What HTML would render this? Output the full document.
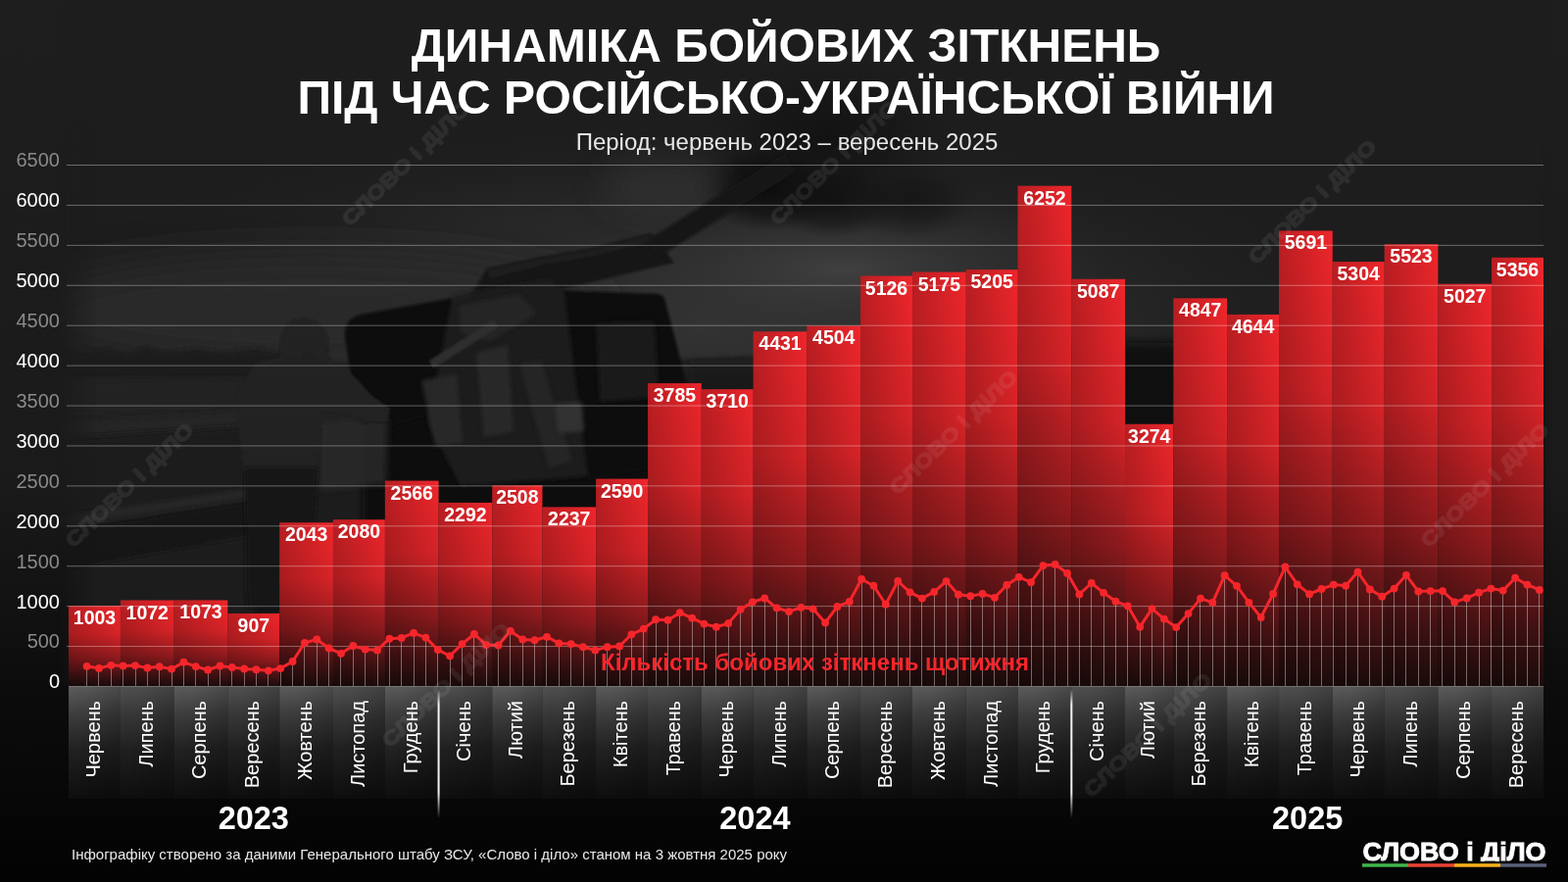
<!DOCTYPE html>
<html><head><meta charset="utf-8"><title>Динаміка бойових зіткнень</title>
<style>
html,body{margin:0;padding:0;background:#000;}
body{width:1600px;height:900px;overflow:hidden;}
svg{display:block;}
text{font-family:"Liberation Sans",Arial,sans-serif;}
</style></head><body>
<svg width="1600" height="900" viewBox="0 0 1600 900">
<defs>
<linearGradient id="bgv" x1="0" y1="0" x2="0" y2="1">
 <stop offset="0" stop-color="#1e1e1e"/>
 <stop offset="0.55" stop-color="#1a1a1a"/>
 <stop offset="0.78" stop-color="#0c0c0c"/>
 <stop offset="1" stop-color="#030303"/>
</linearGradient>
<linearGradient id="bar" x1="0" y1="0" x2="0" y2="1">
 <stop offset="0" stop-color="#ee262b"/>
 <stop offset="0.35" stop-color="#d62327"/>
 <stop offset="0.65" stop-color="#8e1a1d"/>
 <stop offset="0.88" stop-color="#3e1112"/>
 <stop offset="1" stop-color="#1c0b0b"/>
</linearGradient>
<linearGradient id="barh" x1="0" y1="0" x2="1" y2="0">
 <stop offset="0" stop-color="#000" stop-opacity="0.22"/>
 <stop offset="1" stop-color="#000" stop-opacity="0"/>
</linearGradient>
<linearGradient id="cell" x1="0" y1="0" x2="0" y2="1">
 <stop offset="0" stop-color="#5a5a5a"/>
 <stop offset="0.25" stop-color="#3c3c3c"/>
 <stop offset="0.55" stop-color="#222"/>
 <stop offset="0.85" stop-color="#141414"/>
 <stop offset="1" stop-color="#0e0e0e"/>
</linearGradient>
<linearGradient id="celldark" x1="0" y1="0" x2="0" y2="1">
 <stop offset="0" stop-color="#000" stop-opacity="0.12"/>
 <stop offset="1" stop-color="#000" stop-opacity="0"/>
</linearGradient>
<linearGradient id="cellh" x1="0" y1="0" x2="1" y2="0.3">
 <stop offset="0" stop-color="#fff" stop-opacity="0.02"/>
 <stop offset="0.3" stop-color="#000" stop-opacity="0"/>
 <stop offset="1" stop-color="#000" stop-opacity="0.2"/>
</linearGradient>
<linearGradient id="sep" x1="0" y1="0" x2="0" y2="1">
 <stop offset="0" stop-color="#fff" stop-opacity="0"/>
 <stop offset="0.12" stop-color="#fff" stop-opacity="0.95"/>
 <stop offset="0.8" stop-color="#fff" stop-opacity="0.95"/>
 <stop offset="1" stop-color="#fff" stop-opacity="0"/>
</linearGradient>
<filter id="blur6" x="-20%" y="-20%" width="140%" height="140%"><feGaussianBlur stdDeviation="6"/></filter>
<filter id="blur3" x="-20%" y="-20%" width="140%" height="140%"><feGaussianBlur stdDeviation="3"/></filter>
<filter id="blur20" x="-50%" y="-50%" width="200%" height="200%"><feGaussianBlur stdDeviation="20"/></filter>
<filter id="blur2" x="-20%" y="-20%" width="140%" height="140%"><feGaussianBlur stdDeviation="2"/></filter>
<filter id="blur30" x="-50%" y="-50%" width="200%" height="200%"><feGaussianBlur stdDeviation="30"/></filter>
<linearGradient id="skyv" x1="0" y1="0" x2="0" y2="700" gradientUnits="userSpaceOnUse">
 <stop offset="0" stop-color="#1c1c1c"/>
 <stop offset="0.25" stop-color="#1e1e1e"/>
 <stop offset="0.42" stop-color="#232323"/>
 <stop offset="0.52" stop-color="#282828"/>
 <stop offset="1" stop-color="#1a1a1a"/>
</linearGradient>
<radialGradient id="glowA" cx="0.5" cy="0.5" r="0.5">
 <stop offset="0" stop-color="#333" stop-opacity="1"/>
 <stop offset="0.55" stop-color="#292929" stop-opacity="0.85"/>
 <stop offset="1" stop-color="#1d1d1d" stop-opacity="0"/>
</radialGradient>
<radialGradient id="glowB" cx="0.5" cy="0.5" r="0.5">
 <stop offset="0" stop-color="#404040" stop-opacity="1"/>
 <stop offset="1" stop-color="#2e2e2e" stop-opacity="0"/>
</radialGradient>
<radialGradient id="smokeG" cx="0.5" cy="0.5" r="0.5">
 <stop offset="0" stop-color="#121212" stop-opacity="0.95"/>
 <stop offset="0.5" stop-color="#151515" stop-opacity="0.7"/>
 <stop offset="1" stop-color="#1a1a1a" stop-opacity="0"/>
</radialGradient>
<radialGradient id="smokeG2" cx="0.5" cy="0.5" r="0.5">
 <stop offset="0" stop-color="#0c0c0c" stop-opacity="1"/>
 <stop offset="0.6" stop-color="#101010" stop-opacity="0.7"/>
 <stop offset="1" stop-color="#151515" stop-opacity="0"/>
</radialGradient>
<linearGradient id="groundv" x1="0" y1="350" x2="0" y2="700" gradientUnits="userSpaceOnUse">
 <stop offset="0" stop-color="#232323"/>
 <stop offset="0.3" stop-color="#1f1f1f"/>
 <stop offset="1" stop-color="#121212"/>
</linearGradient>
<filter id="blur1" x="-20%" y="-20%" width="140%" height="140%"><feGaussianBlur stdDeviation="1.2"/></filter>
<filter id="blur15" x="-50%" y="-50%" width="200%" height="200%"><feGaussianBlur stdDeviation="15"/></filter>
<linearGradient id="fadeL" x1="0" y1="0" x2="1600" y2="0" gradientUnits="userSpaceOnUse">
 <stop offset="0.037" stop-color="#fff" stop-opacity="0"/>
 <stop offset="0.0625" stop-color="#fff" stop-opacity="1"/>
 <stop offset="0.975" stop-color="#fff" stop-opacity="1"/>
 <stop offset="0.99" stop-color="#fff" stop-opacity="0"/>
</linearGradient>
<mask id="photomask" maskUnits="userSpaceOnUse" x="0" y="0" width="1600" height="700"><rect x="0" y="0" width="1600" height="700" fill="url(#fadeL)"/></mask>
</defs>
<rect x="0" y="0" width="1600" height="900" fill="url(#bgv)"/>

<g mask="url(#photomask)">
<!-- sky base -->
<rect x="0" y="0" width="1600" height="700" fill="#1d1d1d"/>
<ellipse cx="720" cy="330" rx="720" ry="220" fill="url(#glowA)"/>
<ellipse cx="860" cy="275" rx="270" ry="85" fill="url(#glowB)"/>
<ellipse cx="320" cy="318" rx="300" ry="60" fill="#2b2b2b" opacity="0.9" filter="url(#blur20)"/>
<!-- ground -->
<path d="M0 372 L560 368 L700 366 L1000 352 L1600 346 L1600 700 L0 700 Z" fill="url(#groundv)" filter="url(#blur1)"/>
<!-- right ground darker -->
<rect x="1010" y="350" width="600" height="350" fill="#0e0e0e" opacity="0.9" filter="url(#blur6)"/>
<rect x="700" y="372" width="320" height="330" fill="#151515" opacity="0.7" filter="url(#blur6)"/>
<!-- tree line -->
<path d="M0 362 L90 360 L110 356 L125 362 L150 354 L170 360 L200 356 L230 360 L260 356 L300 362 L300 388 L0 388 Z" fill="#1a1a1a" filter="url(#blur2)"/>
<!-- field -->
<path d="M0 388 L300 386 L300 420 L0 424 Z" fill="#242424" filter="url(#blur3)"/>
<path d="M0 436 L300 418 L300 432 L0 452 Z" fill="#272727" opacity="0.9" filter="url(#blur3)"/>
<path d="M0 452 L300 432 L300 500 L0 532 Z" fill="#1e1e1e" filter="url(#blur3)"/>
<!-- embankment and trench -->
<path d="M0 536 L260 498 L260 510 L0 550 Z" fill="#262626" filter="url(#blur2)"/>
<path d="M0 550 L260 510 L260 545 L0 592 Z" fill="#131313" filter="url(#blur3)"/>
<path d="M0 592 L260 545 L260 700 L0 700 Z" fill="#1b1b1b" filter="url(#blur3)"/>
<!-- smoke -->
<ellipse cx="845" cy="140" rx="135" ry="85" fill="url(#smokeG)"/>
<ellipse cx="785" cy="192" rx="72" ry="45" fill="url(#smokeG2)"/>
<ellipse cx="850" cy="205" rx="70" ry="38" fill="url(#smokeG2)" opacity="0.75"/>
<ellipse cx="930" cy="205" rx="70" ry="40" fill="url(#smokeG)" opacity="0.8"/>
<ellipse cx="675" cy="190" rx="60" ry="28" fill="#353535" opacity="0.6" filter="url(#blur15)"/>
<!-- dark mass under gun -->
<path d="M370 420 L700 410 L705 540 L370 545 Z" fill="#0a0a0a" filter="url(#blur3)"/>
<!-- barrel assembly -->
<path d="M480 302 L497 274 L553 262 L600 254 L664 238 L688 268 L620 284 L553 300 L500 324 Z" fill="#171717" filter="url(#blur1)"/>
<path d="M497 276 L553 264 L600 256 L664 240 L666 246 L602 262 L555 270 L500 284 Z" fill="#242424" opacity="0.7" filter="url(#blur1)"/>
<path d="M666 254 L806 166" stroke="#191919" stroke-width="21" stroke-linecap="butt" filter="url(#blur1)"/>
<!-- left shield -->
<path d="M352 345 Q350 326 368 321 L462 304 L474 412 L384 440 L364 420 Z" fill="#0f0f0f" filter="url(#blur1)"/>
<!-- right shield -->
<path d="M563 296 L672 300 Q678 301 679 308 L700 388 L704 470 L600 490 L566 420 Z" fill="#101010" filter="url(#blur1)"/>
<path d="M608 330 L668 328 L672 405 L612 410 Z" fill="#1b1b1b" opacity="0.9" filter="url(#blur2)"/>
<!-- mechanism -->
<path d="M462 302 L560 284 L576 298 L600 486 L470 496 L436 430 Z" fill="#1c1c1c" filter="url(#blur2)"/>
<path d="M468 312 L530 300 L548 320 L500 348 L470 340 Z" fill="#262626" opacity="0.9" filter="url(#blur2)"/>
<path d="M440 372 L506 330" stroke="#2e2e2e" stroke-width="9" filter="url(#blur1)"/>
<path d="M430 388 L466 382 L472 452 L444 456 Z" fill="#2b2b2b" opacity="0.9" filter="url(#blur2)"/>
<path d="M486 360 L518 352 L524 440 L494 446 Z" fill="#2a2a2a" opacity="0.9" filter="url(#blur2)"/>
<path d="M530 372 L552 368 L584 470 L560 478 Z" fill="#262626" opacity="0.9" filter="url(#blur2)"/>
<path d="M566 412 L594 410 L596 440 L570 442 Z" fill="#363636" opacity="0.9" filter="url(#blur2)"/>
<!-- ground patch between soldier and gun -->
<path d="M326 432 L396 428 L394 494 L326 500 Z" fill="#2a2a2a" opacity="0.85" filter="url(#blur3)"/>
<!-- soldier -->
<path d="M286 348 Q290 327 309 325 Q330 326 335 350 L337 368 L352 374 L380 404 L398 416 L396 430 L372 430 L345 420 L330 420 L323 480 L248 480 L245 450 L241 404 L259 371 L286 364 Z" fill="#202020" filter="url(#blur1)"/>
<path d="M288 350 Q292 330 309 327 Q328 328 333 350 L330 362 L292 364 Z" fill="#232323" filter="url(#blur2)"/>
<path d="M250 478 L324 478 L320 540 L314 620 L252 620 Z" fill="#191919" filter="url(#blur2)"/>

</g>
<rect x="70.00" y="618.17" width="52.93" height="82.33" fill="url(#bar)"/>
<rect x="70.00" y="618.17" width="52.93" height="82.33" fill="url(#barh)"/>
<rect x="122.93" y="612.53" width="54.70" height="87.97" fill="url(#bar)"/>
<rect x="122.93" y="612.53" width="54.70" height="87.97" fill="url(#barh)"/>
<rect x="177.63" y="612.45" width="54.70" height="88.05" fill="url(#bar)"/>
<rect x="177.63" y="612.45" width="54.70" height="88.05" fill="url(#barh)"/>
<rect x="232.32" y="626.00" width="52.93" height="74.50" fill="url(#bar)"/>
<rect x="232.32" y="626.00" width="52.93" height="74.50" fill="url(#barh)"/>
<rect x="285.25" y="533.27" width="54.70" height="167.23" fill="url(#bar)"/>
<rect x="285.25" y="533.27" width="54.70" height="167.23" fill="url(#barh)"/>
<rect x="339.95" y="530.25" width="52.93" height="170.25" fill="url(#bar)"/>
<rect x="339.95" y="530.25" width="52.93" height="170.25" fill="url(#barh)"/>
<rect x="392.88" y="490.58" width="54.70" height="209.92" fill="url(#bar)"/>
<rect x="392.88" y="490.58" width="54.70" height="209.92" fill="url(#barh)"/>
<rect x="447.57" y="512.94" width="54.70" height="187.56" fill="url(#bar)"/>
<rect x="447.57" y="512.94" width="54.70" height="187.56" fill="url(#barh)"/>
<rect x="502.27" y="495.31" width="51.17" height="205.19" fill="url(#bar)"/>
<rect x="502.27" y="495.31" width="51.17" height="205.19" fill="url(#barh)"/>
<rect x="553.43" y="517.43" width="54.70" height="183.07" fill="url(#bar)"/>
<rect x="553.43" y="517.43" width="54.70" height="183.07" fill="url(#barh)"/>
<rect x="608.13" y="488.62" width="52.93" height="211.88" fill="url(#bar)"/>
<rect x="608.13" y="488.62" width="52.93" height="211.88" fill="url(#barh)"/>
<rect x="661.06" y="391.07" width="54.70" height="309.43" fill="url(#bar)"/>
<rect x="661.06" y="391.07" width="54.70" height="309.43" fill="url(#barh)"/>
<rect x="715.76" y="397.19" width="52.93" height="303.31" fill="url(#bar)"/>
<rect x="715.76" y="397.19" width="52.93" height="303.31" fill="url(#barh)"/>
<rect x="768.69" y="338.34" width="54.70" height="362.16" fill="url(#bar)"/>
<rect x="768.69" y="338.34" width="54.70" height="362.16" fill="url(#barh)"/>
<rect x="823.38" y="332.38" width="54.70" height="368.12" fill="url(#bar)"/>
<rect x="823.38" y="332.38" width="54.70" height="368.12" fill="url(#barh)"/>
<rect x="878.08" y="281.60" width="52.93" height="418.90" fill="url(#bar)"/>
<rect x="878.08" y="281.60" width="52.93" height="418.90" fill="url(#barh)"/>
<rect x="931.01" y="277.60" width="54.70" height="422.90" fill="url(#bar)"/>
<rect x="931.01" y="277.60" width="54.70" height="422.90" fill="url(#barh)"/>
<rect x="985.70" y="275.16" width="52.93" height="425.34" fill="url(#bar)"/>
<rect x="985.70" y="275.16" width="52.93" height="425.34" fill="url(#barh)"/>
<rect x="1038.63" y="189.69" width="54.70" height="510.81" fill="url(#bar)"/>
<rect x="1038.63" y="189.69" width="54.70" height="510.81" fill="url(#barh)"/>
<rect x="1093.33" y="284.79" width="54.70" height="415.71" fill="url(#bar)"/>
<rect x="1093.33" y="284.79" width="54.70" height="415.71" fill="url(#barh)"/>
<rect x="1148.02" y="432.78" width="49.40" height="267.72" fill="url(#bar)"/>
<rect x="1148.02" y="432.78" width="49.40" height="267.72" fill="url(#barh)"/>
<rect x="1197.43" y="304.38" width="54.70" height="396.12" fill="url(#bar)"/>
<rect x="1197.43" y="304.38" width="54.70" height="396.12" fill="url(#barh)"/>
<rect x="1252.12" y="320.95" width="52.93" height="379.55" fill="url(#bar)"/>
<rect x="1252.12" y="320.95" width="52.93" height="379.55" fill="url(#barh)"/>
<rect x="1305.05" y="235.48" width="54.70" height="465.02" fill="url(#bar)"/>
<rect x="1305.05" y="235.48" width="54.70" height="465.02" fill="url(#barh)"/>
<rect x="1359.75" y="267.07" width="52.93" height="433.43" fill="url(#bar)"/>
<rect x="1359.75" y="267.07" width="52.93" height="433.43" fill="url(#barh)"/>
<rect x="1412.68" y="249.20" width="54.70" height="451.30" fill="url(#bar)"/>
<rect x="1412.68" y="249.20" width="54.70" height="451.30" fill="url(#barh)"/>
<rect x="1467.37" y="289.69" width="54.70" height="410.81" fill="url(#bar)"/>
<rect x="1467.37" y="289.69" width="54.70" height="410.81" fill="url(#barh)"/>
<rect x="1522.07" y="262.83" width="52.93" height="437.67" fill="url(#bar)"/>
<rect x="1522.07" y="262.83" width="52.93" height="437.67" fill="url(#barh)"/>
<rect x="68" y="659.08" width="1507" height="1" fill="#fff" opacity="0.35"/>
<rect x="68" y="618.15" width="1507" height="1" fill="#fff" opacity="0.35"/>
<rect x="68" y="577.23" width="1507" height="1" fill="#fff" opacity="0.35"/>
<rect x="68" y="536.31" width="1507" height="1" fill="#fff" opacity="0.35"/>
<rect x="68" y="495.38" width="1507" height="1" fill="#fff" opacity="0.35"/>
<rect x="68" y="454.46" width="1507" height="1" fill="#fff" opacity="0.35"/>
<rect x="68" y="413.54" width="1507" height="1" fill="#fff" opacity="0.35"/>
<rect x="68" y="372.62" width="1507" height="1" fill="#fff" opacity="0.35"/>
<rect x="68" y="331.69" width="1507" height="1" fill="#fff" opacity="0.35"/>
<rect x="68" y="290.77" width="1507" height="1" fill="#fff" opacity="0.35"/>
<rect x="68" y="249.85" width="1507" height="1" fill="#fff" opacity="0.35"/>
<rect x="68" y="208.92" width="1507" height="1" fill="#fff" opacity="0.35"/>
<rect x="68" y="168.00" width="1507" height="1" fill="#fff" opacity="0.35"/>
<path d="M88.5 679.8V700 M100.5 681.9V700 M113.5 678.8V700 M125.5 679.4V700 M138.5 679.1V700 M150.5 681.5V700 M162.5 680.2V700 M175.5 682.6V700 M187.5 675.7V700 M199.5 680.1V700 M212.5 683.5V700 M224.5 679.5V700 M236.5 680.9V700 M249.5 682.5V700 M261.5 683.2V700 M273.5 684.3V700 M286.5 682.1V700 M298.5 675.0V700 M310.5 655.9V700 M323.5 652.5V700 M335.5 661.5V700 M347.5 666.8V700 M360.5 659.0V700 M372.5 662.6V700 M385.5 663.4V700 M397.5 651.7V700 M409.5 650.9V700 M422.5 645.9V700 M434.5 650.6V700 M446.5 663.0V700 M459.5 669.3V700 M471.5 657.1V700 M483.5 647.0V700 M496.5 658.1V700 M508.5 658.4V700 M520.5 643.9V700 M533.5 652.5V700 M545.5 653.2V700 M557.5 649.8V700 M570.5 656.4V700 M582.5 657.1V700 M595.5 660.2V700 M607.5 663.4V700 M619.5 660.2V700 M632.5 659.5V700 M644.5 647.3V700 M656.5 641.6V700 M669.5 632.2V700 M681.5 632.7V700 M693.5 625.2V700 M706.5 630.7V700 M718.5 636.6V700 M730.5 639.7V700 M743.5 636.1V700 M755.5 621.8V700 M767.5 614.3V700 M780.5 610.5V700 M792.5 620.3V700 M804.5 624.1V700 M817.5 619.8V700 M829.5 621.3V700 M842.5 635.4V700 M854.5 619.0V700 M866.5 613.9V700 M879.5 591.0V700 M891.5 597.7V700 M903.5 616.7V700 M916.5 593.0V700 M928.5 604.3V700 M940.5 610.6V700 M953.5 603.9V700 M965.5 593.1V700 M977.5 606.7V700 M990.5 608.2V700 M1002.5 605.9V700 M1014.5 609.8V700 M1027.5 597.0V700 M1039.5 588.8V700 M1052.5 594.2V700 M1064.5 577.1V700 M1076.5 576.0V700 M1089.5 584.9V700 M1101.5 606.4V700 M1113.5 595.0V700 M1126.5 604.8V700 M1138.5 613.7V700 M1150.5 618.3V700 M1163.5 639.7V700 M1175.5 621.1V700 M1187.5 631.6V700 M1200.5 640.1V700 M1212.5 626.1V700 M1224.5 610.6V700 M1237.5 614.9V700 M1249.5 587.2V700 M1262.5 597.8V700 M1274.5 614.8V700 M1286.5 630.0V700 M1299.5 605.9V700 M1311.5 578.4V700 M1323.5 596.3V700 M1336.5 606.2V700 M1348.5 601.0V700 M1360.5 596.6V700 M1373.5 597.7V700 M1385.5 583.6V700 M1397.5 601.4V700 M1410.5 608.7V700 M1422.5 600.6V700 M1434.5 586.8V700 M1447.5 603.5V700 M1459.5 603.1V700 M1471.5 603.1V700 M1484.5 614.4V700 M1496.5 610.4V700 M1509.5 604.7V700 M1521.5 600.6V700 M1533.5 602.6V700 M1546.5 589.7V700 M1558.5 596.6V700 M1570.5 601.9V700" stroke="#fff" stroke-opacity="0.38" stroke-width="1" fill="none"/>
<polyline points="88.6,679.8 101.0,681.9 113.3,678.8 125.7,679.4 138.0,679.1 150.4,681.5 162.7,680.2 175.1,682.6 187.4,675.7 199.8,680.1 212.1,683.5 224.5,679.5 236.8,680.9 249.2,682.5 261.5,683.2 273.9,684.3 286.2,682.1 298.6,675.0 310.9,655.9 323.3,652.5 335.6,661.5 348.0,666.8 360.3,659.0 372.7,662.6 385.0,663.4 397.4,651.7 409.7,650.9 422.1,645.9 434.4,650.6 446.8,663.0 459.1,669.3 471.5,657.1 483.9,647.0 496.2,658.1 508.6,658.4 520.9,643.9 533.3,652.5 545.6,653.2 558.0,649.8 570.3,656.4 582.7,657.1 595.0,660.2 607.4,663.4 619.7,660.2 632.1,659.5 644.4,647.3 656.8,641.6 669.1,632.2 681.5,632.7 693.8,625.2 706.2,630.7 718.5,636.6 730.9,639.7 743.2,636.1 755.6,621.8 767.9,614.3 780.3,610.5 792.6,620.3 805.0,624.1 817.3,619.8 829.7,621.3 842.1,635.4 854.4,619.0 866.8,613.9 879.1,591.0 891.5,597.7 903.8,616.7 916.2,593.0 928.5,604.3 940.9,610.6 953.2,603.9 965.6,593.1 977.9,606.7 990.3,608.2 1002.6,605.9 1015.0,609.8 1027.3,597.0 1039.7,588.8 1052.0,594.2 1064.4,577.1 1076.7,576.0 1089.1,584.9 1101.4,606.4 1113.8,595.0 1126.1,604.8 1138.5,613.7 1150.8,618.3 1163.2,639.7 1175.5,621.1 1187.9,631.6 1200.2,640.1 1212.6,626.1 1225.0,610.6 1237.3,614.9 1249.7,587.2 1262.0,597.8 1274.4,614.8 1286.7,630.0 1299.1,605.9 1311.4,578.4 1323.8,596.3 1336.1,606.2 1348.5,601.0 1360.8,596.6 1373.2,597.7 1385.5,583.6 1397.9,601.4 1410.2,608.7 1422.6,600.6 1434.9,586.8 1447.3,603.5 1459.6,603.1 1472.0,603.1 1484.3,614.4 1496.7,610.4 1509.0,604.7 1521.4,600.6 1533.7,602.6 1546.1,589.7 1558.4,596.6 1570.8,601.9" fill="none" stroke="#f5262b" stroke-width="3" stroke-linejoin="round"/>
<g fill="#f5262b"><circle cx="88.6" cy="679.8" r="3.9"/><circle cx="101.0" cy="681.9" r="3.9"/><circle cx="113.3" cy="678.8" r="3.9"/><circle cx="125.7" cy="679.4" r="3.9"/><circle cx="138.0" cy="679.1" r="3.9"/><circle cx="150.4" cy="681.5" r="3.9"/><circle cx="162.7" cy="680.2" r="3.9"/><circle cx="175.1" cy="682.6" r="3.9"/><circle cx="187.4" cy="675.7" r="3.9"/><circle cx="199.8" cy="680.1" r="3.9"/><circle cx="212.1" cy="683.5" r="3.9"/><circle cx="224.5" cy="679.5" r="3.9"/><circle cx="236.8" cy="680.9" r="3.9"/><circle cx="249.2" cy="682.5" r="3.9"/><circle cx="261.5" cy="683.2" r="3.9"/><circle cx="273.9" cy="684.3" r="3.9"/><circle cx="286.2" cy="682.1" r="3.9"/><circle cx="298.6" cy="675.0" r="3.9"/><circle cx="310.9" cy="655.9" r="3.9"/><circle cx="323.3" cy="652.5" r="3.9"/><circle cx="335.6" cy="661.5" r="3.9"/><circle cx="348.0" cy="666.8" r="3.9"/><circle cx="360.3" cy="659.0" r="3.9"/><circle cx="372.7" cy="662.6" r="3.9"/><circle cx="385.0" cy="663.4" r="3.9"/><circle cx="397.4" cy="651.7" r="3.9"/><circle cx="409.7" cy="650.9" r="3.9"/><circle cx="422.1" cy="645.9" r="3.9"/><circle cx="434.4" cy="650.6" r="3.9"/><circle cx="446.8" cy="663.0" r="3.9"/><circle cx="459.1" cy="669.3" r="3.9"/><circle cx="471.5" cy="657.1" r="3.9"/><circle cx="483.9" cy="647.0" r="3.9"/><circle cx="496.2" cy="658.1" r="3.9"/><circle cx="508.6" cy="658.4" r="3.9"/><circle cx="520.9" cy="643.9" r="3.9"/><circle cx="533.3" cy="652.5" r="3.9"/><circle cx="545.6" cy="653.2" r="3.9"/><circle cx="558.0" cy="649.8" r="3.9"/><circle cx="570.3" cy="656.4" r="3.9"/><circle cx="582.7" cy="657.1" r="3.9"/><circle cx="595.0" cy="660.2" r="3.9"/><circle cx="607.4" cy="663.4" r="3.9"/><circle cx="619.7" cy="660.2" r="3.9"/><circle cx="632.1" cy="659.5" r="3.9"/><circle cx="644.4" cy="647.3" r="3.9"/><circle cx="656.8" cy="641.6" r="3.9"/><circle cx="669.1" cy="632.2" r="3.9"/><circle cx="681.5" cy="632.7" r="3.9"/><circle cx="693.8" cy="625.2" r="3.9"/><circle cx="706.2" cy="630.7" r="3.9"/><circle cx="718.5" cy="636.6" r="3.9"/><circle cx="730.9" cy="639.7" r="3.9"/><circle cx="743.2" cy="636.1" r="3.9"/><circle cx="755.6" cy="621.8" r="3.9"/><circle cx="767.9" cy="614.3" r="3.9"/><circle cx="780.3" cy="610.5" r="3.9"/><circle cx="792.6" cy="620.3" r="3.9"/><circle cx="805.0" cy="624.1" r="3.9"/><circle cx="817.3" cy="619.8" r="3.9"/><circle cx="829.7" cy="621.3" r="3.9"/><circle cx="842.1" cy="635.4" r="3.9"/><circle cx="854.4" cy="619.0" r="3.9"/><circle cx="866.8" cy="613.9" r="3.9"/><circle cx="879.1" cy="591.0" r="3.9"/><circle cx="891.5" cy="597.7" r="3.9"/><circle cx="903.8" cy="616.7" r="3.9"/><circle cx="916.2" cy="593.0" r="3.9"/><circle cx="928.5" cy="604.3" r="3.9"/><circle cx="940.9" cy="610.6" r="3.9"/><circle cx="953.2" cy="603.9" r="3.9"/><circle cx="965.6" cy="593.1" r="3.9"/><circle cx="977.9" cy="606.7" r="3.9"/><circle cx="990.3" cy="608.2" r="3.9"/><circle cx="1002.6" cy="605.9" r="3.9"/><circle cx="1015.0" cy="609.8" r="3.9"/><circle cx="1027.3" cy="597.0" r="3.9"/><circle cx="1039.7" cy="588.8" r="3.9"/><circle cx="1052.0" cy="594.2" r="3.9"/><circle cx="1064.4" cy="577.1" r="3.9"/><circle cx="1076.7" cy="576.0" r="3.9"/><circle cx="1089.1" cy="584.9" r="3.9"/><circle cx="1101.4" cy="606.4" r="3.9"/><circle cx="1113.8" cy="595.0" r="3.9"/><circle cx="1126.1" cy="604.8" r="3.9"/><circle cx="1138.5" cy="613.7" r="3.9"/><circle cx="1150.8" cy="618.3" r="3.9"/><circle cx="1163.2" cy="639.7" r="3.9"/><circle cx="1175.5" cy="621.1" r="3.9"/><circle cx="1187.9" cy="631.6" r="3.9"/><circle cx="1200.2" cy="640.1" r="3.9"/><circle cx="1212.6" cy="626.1" r="3.9"/><circle cx="1225.0" cy="610.6" r="3.9"/><circle cx="1237.3" cy="614.9" r="3.9"/><circle cx="1249.7" cy="587.2" r="3.9"/><circle cx="1262.0" cy="597.8" r="3.9"/><circle cx="1274.4" cy="614.8" r="3.9"/><circle cx="1286.7" cy="630.0" r="3.9"/><circle cx="1299.1" cy="605.9" r="3.9"/><circle cx="1311.4" cy="578.4" r="3.9"/><circle cx="1323.8" cy="596.3" r="3.9"/><circle cx="1336.1" cy="606.2" r="3.9"/><circle cx="1348.5" cy="601.0" r="3.9"/><circle cx="1360.8" cy="596.6" r="3.9"/><circle cx="1373.2" cy="597.7" r="3.9"/><circle cx="1385.5" cy="583.6" r="3.9"/><circle cx="1397.9" cy="601.4" r="3.9"/><circle cx="1410.2" cy="608.7" r="3.9"/><circle cx="1422.6" cy="600.6" r="3.9"/><circle cx="1434.9" cy="586.8" r="3.9"/><circle cx="1447.3" cy="603.5" r="3.9"/><circle cx="1459.6" cy="603.1" r="3.9"/><circle cx="1472.0" cy="603.1" r="3.9"/><circle cx="1484.3" cy="614.4" r="3.9"/><circle cx="1496.7" cy="610.4" r="3.9"/><circle cx="1509.0" cy="604.7" r="3.9"/><circle cx="1521.4" cy="600.6" r="3.9"/><circle cx="1533.7" cy="602.6" r="3.9"/><circle cx="1546.1" cy="589.7" r="3.9"/><circle cx="1558.4" cy="596.6" r="3.9"/><circle cx="1570.8" cy="601.9" r="3.9"/></g>
<g fill="#fff" font-weight="bold" font-size="19.5" text-anchor="middle">
<text transform="translate(96.47,637.17) scale(1,1.065)">1003</text>
<text transform="translate(150.28,631.53) scale(1,1.065)">1072</text>
<text transform="translate(204.97,631.45) scale(1,1.065)">1073</text>
<text transform="translate(258.79,645.00) scale(1,1.065)">907</text>
<text transform="translate(312.60,552.27) scale(1,1.065)">2043</text>
<text transform="translate(366.41,549.25) scale(1,1.065)">2080</text>
<text transform="translate(420.23,509.58) scale(1,1.065)">2566</text>
<text transform="translate(474.92,531.94) scale(1,1.065)">2292</text>
<text transform="translate(527.85,514.31) scale(1,1.065)">2508</text>
<text transform="translate(580.78,536.43) scale(1,1.065)">2237</text>
<text transform="translate(634.60,507.62) scale(1,1.065)">2590</text>
<text transform="translate(688.41,410.07) scale(1,1.065)">3785</text>
<text transform="translate(742.22,416.19) scale(1,1.065)">3710</text>
<text transform="translate(796.03,357.34) scale(1,1.065)">4431</text>
<text transform="translate(850.73,351.38) scale(1,1.065)">4504</text>
<text transform="translate(904.54,300.60) scale(1,1.065)">5126</text>
<text transform="translate(958.36,296.60) scale(1,1.065)">5175</text>
<text transform="translate(1012.17,294.16) scale(1,1.065)">5205</text>
<text transform="translate(1065.98,208.69) scale(1,1.065)">6252</text>
<text transform="translate(1120.68,303.79) scale(1,1.065)">5087</text>
<text transform="translate(1172.73,451.78) scale(1,1.065)">3274</text>
<text transform="translate(1224.77,323.38) scale(1,1.065)">4847</text>
<text transform="translate(1278.59,339.95) scale(1,1.065)">4644</text>
<text transform="translate(1332.40,254.48) scale(1,1.065)">5691</text>
<text transform="translate(1386.21,286.07) scale(1,1.065)">5304</text>
<text transform="translate(1440.03,268.20) scale(1,1.065)">5523</text>
<text transform="translate(1494.72,308.69) scale(1,1.065)">5027</text>
<text transform="translate(1548.53,281.83) scale(1,1.065)">5356</text>
</g>
<text x="613" y="684.3" fill="#f5262b" font-weight="bold" font-size="24">Кількість бойових зіткнень щотижня</text>
<g font-size="20" text-anchor="end">
<text x="61" y="702.40" fill="#ffffff">0</text>
<text x="61" y="661.48" fill="#8a8a8a">500</text>
<text x="61" y="620.55" fill="#ffffff">1000</text>
<text x="61" y="579.63" fill="#8a8a8a">1500</text>
<text x="61" y="538.71" fill="#ffffff">2000</text>
<text x="61" y="497.78" fill="#8a8a8a">2500</text>
<text x="61" y="456.86" fill="#ffffff">3000</text>
<text x="61" y="415.94" fill="#8a8a8a">3500</text>
<text x="61" y="375.02" fill="#ffffff">4000</text>
<text x="61" y="334.09" fill="#8a8a8a">4500</text>
<text x="61" y="293.17" fill="#ffffff">5000</text>
<text x="61" y="252.25" fill="#8a8a8a">5500</text>
<text x="61" y="211.32" fill="#ffffff">6000</text>
<text x="61" y="170.40" fill="#8a8a8a">6500</text>
</g>
<rect x="70.00" y="700" width="52.93" height="115" fill="url(#cell)"/>
<rect x="70.00" y="700" width="52.93" height="115" fill="url(#cellh)"/>
<rect x="122.93" y="700" width="54.70" height="115" fill="url(#cell)"/>
<rect x="122.93" y="700" width="54.70" height="115" fill="url(#cellh)"/>
<rect x="122.93" y="700" width="54.70" height="115" fill="url(#celldark)"/>
<rect x="177.63" y="700" width="54.70" height="115" fill="url(#cell)"/>
<rect x="177.63" y="700" width="54.70" height="115" fill="url(#cellh)"/>
<rect x="232.32" y="700" width="52.93" height="115" fill="url(#cell)"/>
<rect x="232.32" y="700" width="52.93" height="115" fill="url(#cellh)"/>
<rect x="232.32" y="700" width="52.93" height="115" fill="url(#celldark)"/>
<rect x="285.25" y="700" width="54.70" height="115" fill="url(#cell)"/>
<rect x="285.25" y="700" width="54.70" height="115" fill="url(#cellh)"/>
<rect x="339.95" y="700" width="52.93" height="115" fill="url(#cell)"/>
<rect x="339.95" y="700" width="52.93" height="115" fill="url(#cellh)"/>
<rect x="339.95" y="700" width="52.93" height="115" fill="url(#celldark)"/>
<rect x="392.88" y="700" width="54.70" height="115" fill="url(#cell)"/>
<rect x="392.88" y="700" width="54.70" height="115" fill="url(#cellh)"/>
<rect x="447.57" y="700" width="54.70" height="115" fill="url(#cell)"/>
<rect x="447.57" y="700" width="54.70" height="115" fill="url(#cellh)"/>
<rect x="447.57" y="700" width="54.70" height="115" fill="url(#celldark)"/>
<rect x="502.27" y="700" width="51.17" height="115" fill="url(#cell)"/>
<rect x="502.27" y="700" width="51.17" height="115" fill="url(#cellh)"/>
<rect x="553.43" y="700" width="54.70" height="115" fill="url(#cell)"/>
<rect x="553.43" y="700" width="54.70" height="115" fill="url(#cellh)"/>
<rect x="553.43" y="700" width="54.70" height="115" fill="url(#celldark)"/>
<rect x="608.13" y="700" width="52.93" height="115" fill="url(#cell)"/>
<rect x="608.13" y="700" width="52.93" height="115" fill="url(#cellh)"/>
<rect x="661.06" y="700" width="54.70" height="115" fill="url(#cell)"/>
<rect x="661.06" y="700" width="54.70" height="115" fill="url(#cellh)"/>
<rect x="661.06" y="700" width="54.70" height="115" fill="url(#celldark)"/>
<rect x="715.76" y="700" width="52.93" height="115" fill="url(#cell)"/>
<rect x="715.76" y="700" width="52.93" height="115" fill="url(#cellh)"/>
<rect x="768.69" y="700" width="54.70" height="115" fill="url(#cell)"/>
<rect x="768.69" y="700" width="54.70" height="115" fill="url(#cellh)"/>
<rect x="768.69" y="700" width="54.70" height="115" fill="url(#celldark)"/>
<rect x="823.38" y="700" width="54.70" height="115" fill="url(#cell)"/>
<rect x="823.38" y="700" width="54.70" height="115" fill="url(#cellh)"/>
<rect x="878.08" y="700" width="52.93" height="115" fill="url(#cell)"/>
<rect x="878.08" y="700" width="52.93" height="115" fill="url(#cellh)"/>
<rect x="878.08" y="700" width="52.93" height="115" fill="url(#celldark)"/>
<rect x="931.01" y="700" width="54.70" height="115" fill="url(#cell)"/>
<rect x="931.01" y="700" width="54.70" height="115" fill="url(#cellh)"/>
<rect x="985.70" y="700" width="52.93" height="115" fill="url(#cell)"/>
<rect x="985.70" y="700" width="52.93" height="115" fill="url(#cellh)"/>
<rect x="985.70" y="700" width="52.93" height="115" fill="url(#celldark)"/>
<rect x="1038.63" y="700" width="54.70" height="115" fill="url(#cell)"/>
<rect x="1038.63" y="700" width="54.70" height="115" fill="url(#cellh)"/>
<rect x="1093.33" y="700" width="54.70" height="115" fill="url(#cell)"/>
<rect x="1093.33" y="700" width="54.70" height="115" fill="url(#cellh)"/>
<rect x="1093.33" y="700" width="54.70" height="115" fill="url(#celldark)"/>
<rect x="1148.02" y="700" width="49.40" height="115" fill="url(#cell)"/>
<rect x="1148.02" y="700" width="49.40" height="115" fill="url(#cellh)"/>
<rect x="1197.43" y="700" width="54.70" height="115" fill="url(#cell)"/>
<rect x="1197.43" y="700" width="54.70" height="115" fill="url(#cellh)"/>
<rect x="1197.43" y="700" width="54.70" height="115" fill="url(#celldark)"/>
<rect x="1252.12" y="700" width="52.93" height="115" fill="url(#cell)"/>
<rect x="1252.12" y="700" width="52.93" height="115" fill="url(#cellh)"/>
<rect x="1305.05" y="700" width="54.70" height="115" fill="url(#cell)"/>
<rect x="1305.05" y="700" width="54.70" height="115" fill="url(#cellh)"/>
<rect x="1305.05" y="700" width="54.70" height="115" fill="url(#celldark)"/>
<rect x="1359.75" y="700" width="52.93" height="115" fill="url(#cell)"/>
<rect x="1359.75" y="700" width="52.93" height="115" fill="url(#cellh)"/>
<rect x="1412.68" y="700" width="54.70" height="115" fill="url(#cell)"/>
<rect x="1412.68" y="700" width="54.70" height="115" fill="url(#cellh)"/>
<rect x="1412.68" y="700" width="54.70" height="115" fill="url(#celldark)"/>
<rect x="1467.37" y="700" width="54.70" height="115" fill="url(#cell)"/>
<rect x="1467.37" y="700" width="54.70" height="115" fill="url(#cellh)"/>
<rect x="1522.07" y="700" width="52.93" height="115" fill="url(#cell)"/>
<rect x="1522.07" y="700" width="52.93" height="115" fill="url(#cellh)"/>
<rect x="1522.07" y="700" width="52.93" height="115" fill="url(#celldark)"/>
<rect x="70" y="700" width="1505" height="1" fill="#888" opacity="0.6"/>
<g fill="#fff" font-size="20" text-anchor="end">
<text transform="translate(101.97,715) rotate(-90)" x="0" y="0">Червень</text>
<text transform="translate(155.78,715) rotate(-90)" x="0" y="0">Липень</text>
<text transform="translate(210.47,715) rotate(-90)" x="0" y="0">Серпень</text>
<text transform="translate(264.29,715) rotate(-90)" x="0" y="0">Вересень</text>
<text transform="translate(318.10,715) rotate(-90)" x="0" y="0">Жовтень</text>
<text transform="translate(371.91,715) rotate(-90)" x="0" y="0">Листопад</text>
<text transform="translate(425.73,715) rotate(-90)" x="0" y="0">Грудень</text>
<text transform="translate(480.42,715) rotate(-90)" x="0" y="0">Січень</text>
<text transform="translate(533.35,715) rotate(-90)" x="0" y="0">Лютий</text>
<text transform="translate(586.28,715) rotate(-90)" x="0" y="0">Березень</text>
<text transform="translate(640.10,715) rotate(-90)" x="0" y="0">Квітень</text>
<text transform="translate(693.91,715) rotate(-90)" x="0" y="0">Травень</text>
<text transform="translate(747.72,715) rotate(-90)" x="0" y="0">Червень</text>
<text transform="translate(801.53,715) rotate(-90)" x="0" y="0">Липень</text>
<text transform="translate(856.23,715) rotate(-90)" x="0" y="0">Серпень</text>
<text transform="translate(910.04,715) rotate(-90)" x="0" y="0">Вересень</text>
<text transform="translate(963.86,715) rotate(-90)" x="0" y="0">Жовтень</text>
<text transform="translate(1017.67,715) rotate(-90)" x="0" y="0">Листопад</text>
<text transform="translate(1071.48,715) rotate(-90)" x="0" y="0">Грудень</text>
<text transform="translate(1126.18,715) rotate(-90)" x="0" y="0">Січень</text>
<text transform="translate(1178.23,715) rotate(-90)" x="0" y="0">Лютий</text>
<text transform="translate(1230.27,715) rotate(-90)" x="0" y="0">Березень</text>
<text transform="translate(1284.09,715) rotate(-90)" x="0" y="0">Квітень</text>
<text transform="translate(1337.90,715) rotate(-90)" x="0" y="0">Травень</text>
<text transform="translate(1391.71,715) rotate(-90)" x="0" y="0">Червень</text>
<text transform="translate(1445.53,715) rotate(-90)" x="0" y="0">Липень</text>
<text transform="translate(1500.22,715) rotate(-90)" x="0" y="0">Серпень</text>
<text transform="translate(1554.03,715) rotate(-90)" x="0" y="0">Вересень</text>
</g>
<rect x="446.57" y="703" width="2" height="132" fill="url(#sep)"/>
<rect x="1092.33" y="703" width="2" height="132" fill="url(#sep)"/>
<g fill="#fff" font-weight="bold" font-size="32.5" text-anchor="middle">
<text x="258.79" y="845.8">2023</text>
<text x="770.45" y="845.8">2024</text>
<text x="1334.16" y="845.8">2025</text>
</g>
<g fill="#fff" font-weight="bold" font-size="48" text-anchor="middle">
<text x="802" y="62.6">ДИНАМІКА БОЙОВИХ ЗІТКНЕНЬ</text>
<text x="802" y="116.2">ПІД ЧАС РОСІЙСЬКО-УКРАЇНСЬКОЇ ВІЙНИ</text>
</g>
<text x="803" y="153.4" fill="#e6e6e6" font-size="24" text-anchor="middle">Період: червень 2023 – вересень 2025</text>
<text x="73" y="877" fill="#e8e8e8" font-size="15">Інфографіку створено за даними Генерального штабу ЗСУ, «Слово і діло» станом на 3 жовтня 2025 року</text>
<clipPath id="logoclip"><rect x="1380" y="850" width="210" height="29"/></clipPath>
<text x="1390.5" y="877.8" fill="#fff" stroke="#fff" stroke-width="0.9" font-weight="bold" font-size="25.5" textLength="187" lengthAdjust="spacingAndGlyphs" clip-path="url(#logoclip)">СЛОВО і ДіЛО</text>
<rect x="1390" y="881.2" width="47" height="3.5" fill="#3fb54a"/>
<rect x="1437" y="881.2" width="47" height="3.5" fill="#ea4335"/>
<rect x="1484" y="881.2" width="47" height="3.5" fill="#f8b31a"/>
<rect x="1531" y="881.2" width="47" height="3.5" fill="#59627a"/>
<g opacity="0.075" fill="#fff" stroke="#fff" stroke-width="1.6" stroke-linejoin="round" font-weight="bold" font-size="21" text-anchor="middle">
<text transform="translate(414,167) rotate(-44)" x="0" y="7" textLength="172" lengthAdjust="spacingAndGlyphs">СЛОВО і ДіЛО</text>
<text transform="translate(851,166) rotate(-44)" x="0" y="7" textLength="172" lengthAdjust="spacingAndGlyphs">СЛОВО і ДіЛО</text>
<text transform="translate(1339,206) rotate(-44)" x="0" y="7" textLength="172" lengthAdjust="spacingAndGlyphs">СЛОВО і ДіЛО</text>
<text transform="translate(132,495) rotate(-44)" x="0" y="7" textLength="172" lengthAdjust="spacingAndGlyphs">СЛОВО і ДіЛО</text>
<text transform="translate(973,441) rotate(-44)" x="0" y="7" textLength="172" lengthAdjust="spacingAndGlyphs">СЛОВО і ДіЛО</text>
<text transform="translate(1515,495) rotate(-44)" x="0" y="7" textLength="172" lengthAdjust="spacingAndGlyphs">СЛОВО і ДіЛО</text>
<text transform="translate(455,699) rotate(-44)" x="0" y="7" textLength="172" lengthAdjust="spacingAndGlyphs">СЛОВО і ДіЛО</text>
<text transform="translate(1171,750) rotate(-44)" x="0" y="7" textLength="172" lengthAdjust="spacingAndGlyphs">СЛОВО і ДіЛО</text>
</g>
</svg></body></html>
